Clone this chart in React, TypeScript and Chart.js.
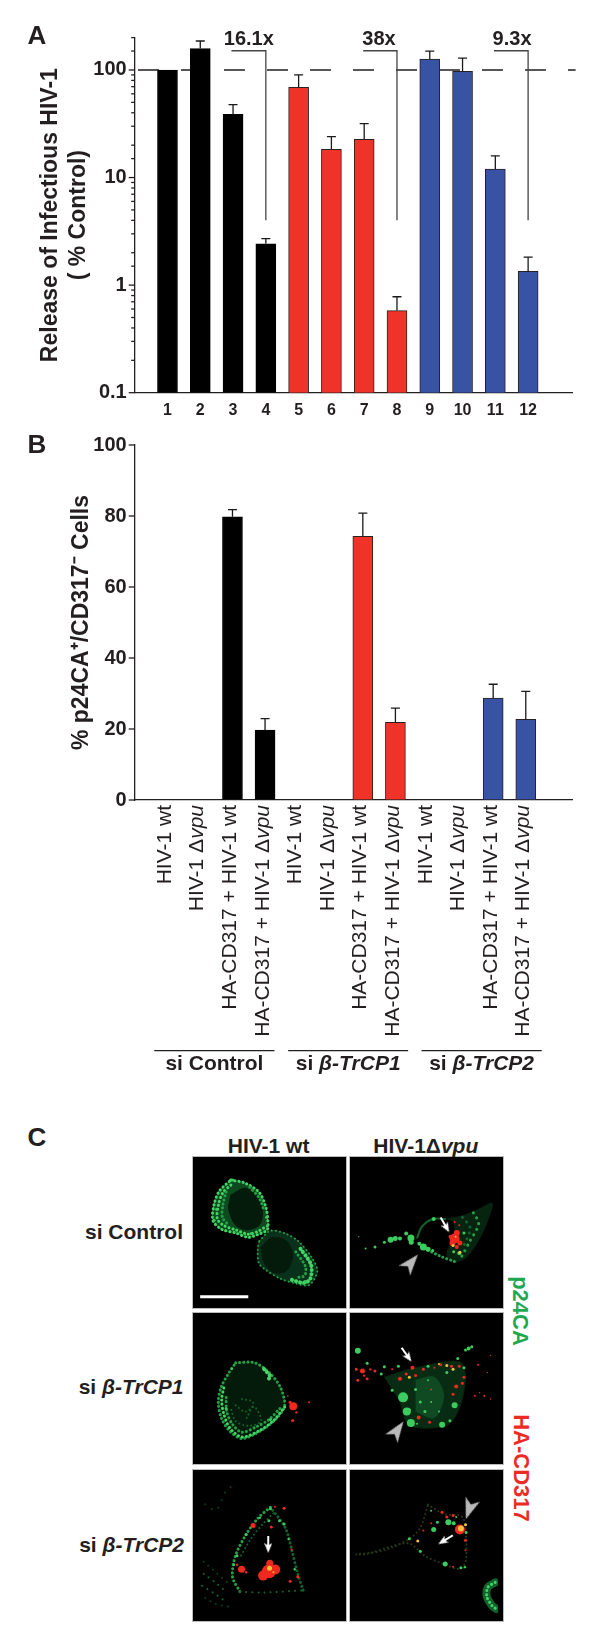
import React, { useEffect, useRef } from "react";
import { Chart, registerables } from "chart.js";

Chart.register(...registerables);
Chart.defaults.font.family = '"Liberation Sans", Arial, sans-serif';
Chart.defaults.color = "#231f20";

const INK = "#231f20";
const BLACK = "#000000";
const RED = "#EF3329";
const BLUE = "#3953A4";
const GREEN_TXT = "#1FA84F";
const RED_TXT = "#EE2A27";

// ---------- Panel A ----------
const laneNumbers = [1, 2, 3, 4, 5, 6, 7, 8, 9, 10, 11, 12];
const releaseValues = [100, 158, 38.8, 2.42, 69, 18.3, 22.7, 0.58, 126, 97, 12, 1.34];
const releaseUpper = [100, 186, 47.6, 2.7, 90, 24, 31.7, 0.78, 150, 129, 15.9, 1.82];
const laneColors = [BLACK, BLACK, BLACK, BLACK, RED, RED, RED, RED, BLUE, BLUE, BLUE, BLUE];
const logTickLabels = [0.1, 1, 10, 100];
const referenceX = [0.1, 13.45];
const referenceY = [100, 100];
const foldLabels = ["16.1x", "38x", "9.3x"];
const foldLabelX = [3.48, 7.45, 11.51];
const foldLabelY = 193;
const foldFromX = [2.95, 6.97, 10.96];
const foldToX = [4, 8, 12];
const foldTopY = 151;
const foldBottomY = 4;

// ---------- Panel B ----------
const treatmentLabels = [
  "HIV-1 wt", "HIV-1 Δvpu", "HA-CD317 + HIV-1 wt", "HA-CD317 + HIV-1 Δvpu",
  "HIV-1 wt", "HIV-1 Δvpu", "HA-CD317 + HIV-1 wt", "HA-CD317 + HIV-1 Δvpu",
  "HIV-1 wt", "HIV-1 Δvpu", "HA-CD317 + HIV-1 wt", "HA-CD317 + HIV-1 Δvpu",
];
const cellValues = [0, 0, 79.8, 19.7, 0, 0, 74.3, 21.9, 0, 0, 28.7, 22.7];
const cellUpper = [0, 0, 81.8, 22.9, 0, 0, 80.8, 25.9, 0, 0, 32.6, 30.6];
const groupPrefix = ["si ", "si ", "si "];
const groupNames = ["Control", "β-TrCP1", "β-TrCP2"];
const groupFrom = [0.6, 4.71, 8.8];
const groupTo = [4.29, 8.39, 12.49];

// ---------- Panel C (confocal images, traced by eye in image coordinates) ----------
type Dot = [number, number, number];
type Pt = [number, number];
type Rim = { pts: Pt[]; color: string; width: number; dash?: number[]; fill?: string };
type Panel = {
  x0: number; y0: number; rims: Rim[]; green: Dot[]; red: Dot[]; yellow: Dot[];
  grayArrows: [number, number, number][]; whiteArrows: [number, number, number][];
};

const DIM = "#12622c";
const MID = "#23a045";
const BRIGHT = "#45d466";
const FAINT = "#0b3d1b";
const WASH = "#06240f";
const SPECK = [0.1, 4];
const SPECK_WIDE = [0.1, 6];

const upperOuter: Pt[] = [[115, 82], [160, 92], [205, 122], [226, 170], [232, 215], [230, 240], [200, 255], [170, 264], [130, 250], [85, 238], [58, 210], [62, 160], [78, 118], [115, 82]];
const upperNucleus: Pt[] = [[115, 130], [160, 108], [200, 135], [215, 180], [205, 225], [165, 240], [130, 225], [108, 175], [115, 130]];
const lowerOuter: Pt[] = [[205, 275], [240, 243], [290, 253], [330, 278], [372, 330], [388, 372], [362, 415], [320, 410], [270, 394], [225, 367], [203, 345], [200, 300], [205, 275]];
const lowerNucleus: Pt[] = [[210, 295], [245, 265], [290, 275], [310, 320], [290, 370], [250, 375], [220, 345], [210, 295]];

const panelWtControl: Panel = {
  x0: 8, y0: 22,
  rims: [
    { pts: upperOuter, color: DIM, width: 1, fill: "#0d4a20" },
    { pts: upperNucleus, color: "#041a0b", width: 1, fill: "#041a0b" },
    { pts: lowerOuter, color: FAINT, width: 1, fill: "#08301a" },
    { pts: lowerNucleus, color: "#041a0b", width: 1, fill: "#041a0b" },
    { pts: upperOuter, color: BRIGHT, width: 3, dash: [0.1, 4] },
    { pts: [[115, 98], [90, 122], [76, 160], [72, 205], [92, 226], [130, 240], [170, 254], [200, 245], [222, 232]], color: BRIGHT, width: 3, dash: SPECK },
    { pts: [[100, 120], [90, 160], [88, 200], [105, 222]], color: MID, width: 3, dash: SPECK },
    { pts: [[175, 105], [205, 140], [220, 180]], color: MID, width: 3, dash: SPECK },
    { pts: lowerOuter, color: MID, width: 2, dash: SPECK },
    { pts: [[335, 300], [368, 350], [366, 395], [345, 408], [300, 396]], color: BRIGHT, width: 4, dash: SPECK },
    { pts: [[320, 310], [350, 355], [348, 385], [320, 392]], color: MID, width: 3, dash: SPECK },
  ],
  green: [[228, 200, 1.5], [230, 228, 1.5], [70, 175, 1.5], [62, 210, 1.5], [350, 405, 2], [120, 82, 1.5], [180, 252, 1.5]],
  red: [], yellow: [], grayArrows: [], whiteArrows: [],
};

const panelVpuControl: Panel = {
  x0: 6, y0: 22,
  rims: [
    { pts: [[300, 205], [350, 195], [400, 175], [445, 155], [425, 225], [395, 285], [360, 330], [325, 342], [300, 320], [325, 260], [325, 215]], color: WASH, width: 1, fill: WASH },
    { pts: [[205, 265], [220, 230], [255, 205], [295, 205]], color: DIM, width: 2 },
    { pts: [[240, 305], [280, 325], [325, 342]], color: MID, width: 3, dash: SPECK },
    { pts: [[385, 185], [402, 220], [372, 280], [348, 325]], color: MID, width: 3, dash: SPECK_WIDE },
    { pts: [[350, 200], [375, 235], [355, 290]], color: DIM, width: 3, dash: SPECK_WIDE },
  ],
  green: [[120, 272, 3], [135, 268, 2.5], [150, 268, 2], [170, 252, 2], [185, 266, 3.5], [186, 280, 2.5], [225, 295, 3.5], [240, 302, 2.5], [212, 285, 2], [255, 306, 1.5], [258, 205, 2], [70, 295, 1.5], [40, 300, 1], [18, 262, 0.6], [340, 315, 2], [322, 310, 1.5], [355, 250, 1.5], [100, 280, 1.5]],
  red: [[325, 268, 5], [332, 250, 3], [312, 262, 2], [318, 282, 3], [342, 282, 2.5], [332, 295, 2], [325, 215, 1], [340, 225, 1]],
  yellow: [[320, 290, 1.5], [342, 312, 1.5], [328, 262, 1]],
  grayArrows: [[186, 345, 40]],
  whiteArrows: [[294, 224, 150]],
};

const trcp1Outer: Pt[] = [[130, 195], [190, 195], [235, 225], [270, 270], [285, 330], [260, 370], [210, 410], [150, 435], [110, 410], [85, 370], [75, 320], [85, 270], [110, 225], [130, 195]];

const panelWtTrcp1: Panel = {
  x0: 8, y0: 50,
  rims: [
    { pts: trcp1Outer, color: WASH, width: 1, fill: "#041a0b" },
    { pts: trcp1Outer, color: MID, width: 3, dash: SPECK },
    { pts: [[285, 335], [250, 378], [205, 410], [150, 430], [112, 402], [92, 355], [86, 310], [95, 265]], color: BRIGHT, width: 3, dash: SPECK },
    { pts: [[270, 340], [235, 375], [195, 398], [150, 415], [120, 390], [102, 350], [100, 305]], color: MID, width: 3, dash: SPECK },
    { pts: [[130, 330], [160, 350], [190, 335], [210, 380], [170, 395], [130, 380], [115, 340]], color: DIM, width: 2, dash: SPECK },
    { pts: [[150, 310], [185, 320], [165, 370]], color: DIM, width: 2, dash: SPECK },
    { pts: [[220, 215], [240, 240], [225, 250]], color: BRIGHT, width: 4, dash: SPECK },
  ],
  green: [[118, 214, 1.2], [240, 375, 1.5], [100, 340, 1.5]],
  red: [[312, 333, 4], [302, 320, 1.5], [322, 352, 1.2], [310, 378, 1.5], [362, 320, 1], [295, 300, 0.8]],
  yellow: [], grayArrows: [], whiteArrows: [],
};

const panelVpuTrcp1: Panel = {
  x0: 6, y0: 50,
  rims: [
    { pts: [[100, 240], [190, 212], [340, 190], [360, 240], [340, 340], [300, 395], [180, 395], [150, 320]], color: WASH, width: 1, fill: "#072c13" },
    { pts: [[200, 250], [260, 240], [290, 300], [260, 370], [200, 350]], color: "#0f4a22", width: 1, fill: "#0f4a22" },
  ],
  green: [[160, 305, 5], [172, 350, 4], [185, 387, 4], [285, 393, 3], [325, 330, 3], [370, 148, 2], [380, 142, 1.5], [360, 153, 1.5], [15, 155, 3], [125, 282, 1.5], [145, 205, 1.5], [90, 230, 1.5], [240, 205, 1.5], [300, 225, 1.5], [335, 180, 1.5], [355, 210, 1.5], [310, 380, 1.5], [230, 350, 1.5], [215, 320, 1.5], [100, 207, 1.5], [200, 280, 1.5], [250, 320, 1], [45, 195, 1.5], [180, 345, 1.5], [240, 250, 1], [275, 350, 1], [205, 390, 1]],
  red: [[10, 215, 1.5], [30, 220, 2.5], [45, 245, 1.5], [15, 250, 1.5], [70, 220, 1.5], [150, 245, 2], [190, 210, 2], [200, 235, 1.5], [280, 200, 1.5], [340, 205, 1.5], [355, 240, 1.5], [330, 270, 2], [350, 260, 1.5], [320, 295, 1.5], [210, 370, 2], [390, 300, 1], [420, 300, 1], [400, 200, 1], [440, 170, 0.7], [250, 280, 1], [170, 230, 1.5], [225, 215, 1.5], [315, 205, 1.5], [440, 310, 0.7], [245, 385, 1.5], [55, 215, 1.2], [35, 235, 1.2], [125, 215, 1], [260, 210, 1], [405, 290, 0.8], [430, 225, 0.7]],
  yellow: [[300, 203, 1.5], [320, 215, 1.5], [180, 240, 1.5], [275, 198, 1]],
  grayArrows: [[142, 410, 35]],
  whiteArrows: [[171, 168, 145]],
};

const panelWtTrcp2: Panel = {
  x0: 8, y0: 80,
  rims: [
    { pts: [[240, 180], [290, 250], [310, 320], [330, 400], [348, 455]], color: DIM, width: 3, dash: SPECK },
    { pts: [[240, 180], [200, 215], [160, 270], [125, 340], [115, 410], [140, 460]], color: MID, width: 3, dash: SPECK },
    { pts: [[250, 200], [215, 235], [175, 285], [140, 345]], color: DIM, width: 2, dash: SPECK },
    { pts: [[20, 360], [60, 395], [100, 430]], color: FAINT, width: 2, dash: SPECK_WIDE },
    { pts: [[20, 400], [60, 430], [95, 460]], color: DIM, width: 2, dash: SPECK_WIDE },
    { pts: [[15, 440], [55, 465], [90, 490]], color: DIM, width: 2, dash: SPECK_WIDE },
    { pts: [[25, 480], [60, 500], [110, 510]], color: FAINT, width: 2, dash: SPECK_WIDE },
    { pts: [[25, 170], [60, 190], [95, 125], [130, 100]], color: FAINT, width: 2, dash: [0.1, 8] },
    { pts: [[140, 460], [220, 462], [345, 455]], color: DIM, width: 2, dash: SPECK_WIDE },
  ],
  green: [[240, 185, 1.5], [270, 225, 1.5], [235, 225, 1.5], [285, 235, 1.5], [160, 270, 1.5], [130, 340, 1.5], [120, 370, 1.2], [300, 285, 1.2], [205, 215, 1.2], [320, 385, 1.2]],
  red: [[235, 392, 7], [216, 406, 5], [256, 386, 5], [238, 365, 3.5], [145, 385, 3.5], [183, 240, 2.5], [243, 245, 1.5], [285, 183, 1.5], [255, 178, 1], [310, 320, 1], [330, 410, 1.5], [305, 425, 1.5], [130, 370, 1.2], [160, 395, 1.2]],
  yellow: [[237, 382, 2.5], [250, 395, 1]],
  grayArrows: [],
  whiteArrows: [[233, 303, 180]],
};

const panelVpuTrcp2: Panel = {
  x0: 6, y0: 80,
  rims: [
    { pts: [[240, 175], [290, 205], [350, 215], [362, 290], [360, 360], [340, 382], [290, 366], [230, 340], [180, 300], [120, 310], [40, 335], [10, 335]], color: "#2c3a14", width: 2, dash: SPECK },
    { pts: [[10, 335], [100, 322], [180, 285], [215, 250], [240, 175]], color: "#26361a", width: 2, dash: SPECK },
    { pts: [[455, 425], [432, 440], [428, 470], [445, 500], [458, 510]], color: DIM, width: 8 },
    { pts: [[455, 425], [432, 440], [428, 470], [445, 500], [458, 510]], color: BRIGHT, width: 3, dash: SPECK },
  ],
  green: [[305, 232, 3], [322, 235, 2], [258, 255, 2.5], [295, 366, 2.5], [345, 378, 1.5], [358, 376, 1.2], [215, 325, 1.5], [180, 285, 1.5], [362, 265, 1.5], [270, 232, 1.5], [250, 195, 1], [330, 215, 1]],
  red: [[342, 255, 5], [285, 200, 1.5], [300, 215, 1.5], [320, 210, 1.5], [360, 290, 1.5], [360, 322, 1], [225, 258, 1], [250, 235, 1], [320, 375, 1]],
  yellow: [[345, 252, 3], [207, 292, 1.5], [360, 240, 1.5]],
  grayArrows: [[372, 190, 199]],
  whiteArrows: [[296, 288, 239]],
};

const scaleBarX = [18, 170];
const scaleBarY = [452, 452];

// ---------- Helpers ----------
const FONT = '"Liberation Sans", Arial, sans-serif';

const tickMarksPlugin = {
  id: "tickMarks",
  afterDraw(chart: any) {
    const s = chart.scales.y;
    const c = chart.ctx;
    c.save();
    c.strokeStyle = INK;
    c.lineWidth = 1.3;
    s.ticks.forEach((t: any) => {
      const y = s.getPixelForValue(t.value);
      const isLabeled = t.label !== "" && t.label !== undefined;
      const len = isLabeled ? 6 : 3.5;
      c.beginPath();
      c.moveTo(s.right - len, y);
      c.lineTo(s.right, y);
      c.stroke();
    });
    c.restore();
  },
};

function errorBars(upper: number[], values: number[]) {
  return {
    id: "errorBars",
    afterDatasetsDraw(chart: any) {
      const { x, y } = chart.scales;
      const c = chart.ctx;
      c.save();
      c.strokeStyle = "#1a1a1a";
      c.lineWidth = 1.3;
      upper.forEach((u, i) => {
        if (u <= values[i]) return;
        const px = x.getPixelForValue(i + 1);
        const top = y.getPixelForValue(u);
        c.beginPath();
        c.moveTo(px, y.getPixelForValue(values[i]));
        c.lineTo(px, top);
        c.moveTo(px - 4.5, top);
        c.lineTo(px + 4.5, top);
        c.stroke();
      });
      c.restore();
    },
  };
}

const foldLabelPlugin = {
  id: "foldLabels",
  afterDraw(chart: any) {
    const { x, y } = chart.scales;
    const c = chart.ctx;
    c.save();
    c.font = `bold 20px ${FONT}`;
    c.fillStyle = INK;
    c.textAlign = "center";
    c.textBaseline = "middle";
    foldLabels.forEach((t, i) => c.fillText(t, x.getPixelForValue(foldLabelX[i]), y.getPixelForValue(foldLabelY)));
    c.restore();
  },
};

const treatmentAxisPlugin = {
  id: "treatmentAxis",
  afterDraw(chart: any) {
    const { x } = chart.scales;
    const base = chart.scales.y.bottom;
    const c = chart.ctx;
    const regular = `21px ${FONT}`;
    const italic = `italic 21px ${FONT}`;
    c.save();
    c.fillStyle = INK;
    treatmentLabels.forEach((label, i) => {
      const italicPart = label.endsWith("vpu") ? "vpu" : "";
      const head = italicPart ? label.slice(0, -3) : label;
      c.font = regular;
      const hw = c.measureText(head).width;
      c.font = italic;
      const iw = italicPart ? c.measureText(italicPart).width : 0;
      c.save();
      c.translate(x.getPixelForValue(i + 1) - 2.3, base + 5);
      c.rotate(-Math.PI / 2);
      c.textBaseline = "middle";
      c.textAlign = "left";
      c.font = regular;
      c.fillText(head, -(hw + iw), 0);
      if (italicPart) {
        c.font = italic;
        c.fillText(italicPart, -iw, 0);
      }
      c.restore();
    });
    groupNames.forEach((name, i) => {
      const a = x.getPixelForValue(groupFrom[i]);
      const b = x.getPixelForValue(groupTo[i]);
      c.strokeStyle = INK;
      c.lineWidth = 1.3;
      c.beginPath();
      c.moveTo(a, base + 250.7);
      c.lineTo(b, base + 250.7);
      c.stroke();
      const isItalic = name.startsWith("β");
      const boldF = `bold 21px ${FONT}`;
      const nameF = isItalic ? `italic bold 21px ${FONT}` : boldF;
      c.font = boldF;
      const pw = c.measureText(groupPrefix[i]).width;
      c.font = nameF;
      const nw = c.measureText(name).width;
      const start = (a + b) / 2 - (pw + nw) / 2;
      c.textBaseline = "middle";
      c.textAlign = "left";
      c.font = boldF;
      c.fillText(groupPrefix[i], start, base + 264);
      c.font = nameF;
      c.fillText(name, start + pw, base + 264);
    });
    c.restore();
  },
};

function fixedSize(value: number, key: "width" | "height") {
  return (s: any) => {
    s[key] = value;
  };
}

const axisBorder = { display: true, color: INK, width: 1.3 };
const noGrid = { display: true, drawOnChartArea: false, drawTicks: false };

function configA(): any {
  return {
    type: "bar",
    data: {
      datasets: [
        {
          type: "bar",
          order: 2,
          data: laneNumbers.map((n, i) => ({ x: n, y: releaseValues[i] })),
          backgroundColor: laneColors,
          borderColor: laneColors.map((c) => (c === BLACK ? BLACK : "#2a2020")),
          borderWidth: 1,
          barThickness: 20,
        },
        {
          type: "line",
          order: 3,
          data: referenceX.map((x, i) => ({ x, y: referenceY[i] })),
          borderColor: INK,
          borderWidth: 1.5,
          borderDash: [21, 22],
          pointRadius: 0,
          clip: false,
        },
        ...foldToX.map((to, i) => ({
          type: "line",
          order: 1,
          data: [
            { x: foldFromX[i], y: foldTopY },
            { x: to, y: foldTopY },
            { x: to, y: foldBottomY },
          ],
          borderColor: "#444",
          borderWidth: 1.3,
          pointRadius: 0,
          clip: false,
        })),
      ],
    },
    plugins: [tickMarksPlugin, errorBars(releaseUpper, releaseValues), foldLabelPlugin],
    options: {
      responsive: false,
      animation: false,
      layout: { padding: { left: 0, top: 37.6, right: 27.3, bottom: 0 } },
      plugins: { legend: { display: false }, tooltip: { enabled: false } },
      scales: {
        x: {
          type: "linear",
          min: 0,
          max: 13.36,
          offset: false,
          afterFit: fixedSize(27.3, "height"),
          grid: { ...noGrid, offset: false },
          border: axisBorder,
          ticks: {
            stepSize: 1,
            autoSkip: false,
            includeBounds: false,
            maxRotation: 0,
            padding: 8,
            font: { size: 16, weight: "bold" },
            callback: (v: number) => (laneNumbers.includes(v) ? String(v) : ""),
          },
        },
        y: {
          type: "logarithmic",
          min: 0.1,
          max: 200,
          afterFit: fixedSize(134.7, "width"),
          grid: noGrid,
          border: axisBorder,
          ticks: {
            autoSkip: false,
            padding: 8,
            font: { size: 20, weight: "bold" },
            callback: (v: number) => (logTickLabels.includes(Number(v)) ? String(v) : ""),
          },
          title: {
            display: true,
            text: ["Release of Infectious HIV-1", "( % Control)"],
            font: { size: 23, weight: "bold", lineHeight: 1.22 },
            color: INK,
            padding: { top: 37, bottom: 0 },
          },
        },
      },
    },
  };
}

function configB(): any {
  return {
    type: "bar",
    data: {
      datasets: [
        {
          data: laneNumbers.map((n, i) => ({ x: n, y: cellValues[i] })),
          backgroundColor: laneColors,
          borderColor: laneColors.map((c) => (c === BLACK ? BLACK : "#2a2020")),
          borderWidth: 1,
          barThickness: 20,
        },
      ],
    },
    plugins: [tickMarksPlugin, errorBars(cellUpper, cellValues), treatmentAxisPlugin],
    options: {
      responsive: false,
      animation: false,
      layout: { padding: { left: 0, top: 45, right: 27.3, bottom: 0 } },
      plugins: { legend: { display: false }, tooltip: { enabled: false } },
      scales: {
        x: {
          type: "linear",
          min: 0,
          max: 13.44,
          offset: false,
          afterFit: fixedSize(280, "height"),
          grid: { ...noGrid, offset: false },
          border: axisBorder,
          ticks: { display: false, stepSize: 1, includeBounds: false },
        },
        y: {
          type: "linear",
          min: 0,
          max: 100,
          afterFit: fixedSize(134.7, "width"),
          grid: noGrid,
          border: axisBorder,
          ticks: {
            stepSize: 20,
            padding: 8,
            font: { size: 20, weight: "bold" },
          },
          title: {
            display: true,
            text: "% p24CA⁺/CD317⁻ Cells",
            font: { size: 23, weight: "bold", lineHeight: 1.2 },
            color: INK,
            padding: { top: 68, bottom: 0 },
          },
        },
      },
    },
  };
}

function arrowSprite(kind: "gray" | "white") {
  const cv = document.createElement("canvas");
  const c = cv.getContext("2d") as CanvasRenderingContext2D;
  if (kind === "gray") {
    cv.width = 15;
    cv.height = 21;
    c.fillStyle = "#b9b9b9";
    c.beginPath();
    c.moveTo(7.5, 0);
    c.lineTo(15, 21);
    c.lineTo(7.5, 15.5);
    c.lineTo(0, 21);
    c.closePath();
    c.fill();
  } else {
    cv.width = 8;
    cv.height = 17;
    c.fillStyle = "#ffffff";
    c.beginPath();
    c.moveTo(4, 0);
    c.lineTo(8, 10);
    c.lineTo(5, 8);
    c.lineTo(5, 17);
    c.lineTo(3, 17);
    c.lineTo(3, 8);
    c.lineTo(0, 10);
    c.closePath();
    c.fill();
  }
  return cv;
}

function configPanel(p: Panel, withBar: boolean): any {
  const toXY = (pts: Pt[]) => pts.map(([x, y]) => ({ x, y }));
  const toBubble = (d: Dot[]) => d.map(([x, y, r]) => ({ x, y, r }));
  const datasets: any[] = [];
  p.rims.forEach((r, idx) =>
    datasets.push({
      type: "line",
      data: toXY(r.pts),
      borderColor: r.color,
      borderWidth: r.width,
      borderDash: r.dash || [],
      borderCapStyle: "round",
      backgroundColor: r.fill,
      fill: r.fill ? "shape" : false,
      pointRadius: 0,
      tension: 0.3,
      order: 100 - idx,
    })
  );
  const bubble = (d: Dot[], color: string, order: number) => ({
    type: "bubble",
    data: toBubble(d),
    backgroundColor: color,
    borderWidth: 0,
    order,
  });
  datasets.push(bubble(p.green, "#3ccb5e", 4));
  datasets.push(bubble(p.red, "#f0281e", 3));
  datasets.push(bubble(p.yellow, "#f5c23a", 2));
  if (p.grayArrows.length)
    datasets.push({
      type: "scatter",
      data: p.grayArrows.map(([x, y]) => ({ x, y })),
      pointStyle: arrowSprite("gray"),
      pointRotation: p.grayArrows.map((a) => a[2]),
      pointRadius: 3,
      order: 1,
    });
  if (p.whiteArrows.length)
    datasets.push({
      type: "scatter",
      data: p.whiteArrows.map(([x, y]) => ({ x, y })),
      pointStyle: arrowSprite("white"),
      pointRotation: p.whiteArrows.map((a) => a[2]),
      pointRadius: 3,
      order: 1,
    });
  if (withBar)
    datasets.push({
      type: "line",
      data: scaleBarX.map((x, i) => ({ x, y: scaleBarY[i] })),
      borderColor: "#ffffff",
      borderWidth: 3,
      pointRadius: 0,
      order: 1,
    });
  return {
    type: "scatter",
    data: { datasets },
    options: {
      responsive: false,
      animation: false,
      layout: { padding: 0 },
      plugins: { legend: { display: false }, tooltip: { enabled: false } },
      scales: {
        x: { type: "linear", display: false, min: p.x0, max: p.x0 + 458 },
        y: { type: "linear", display: false, reverse: true, min: p.y0, max: p.y0 + 453 },
      },
    },
  };
}

function ChartBox({
  make, left, top, width, height, filter,
}: {
  make: () => any; left: number; top: number; width: number; height: number; filter?: string;
}) {
  const ref = useRef<HTMLCanvasElement | null>(null);
  useEffect(() => {
    const chart = new Chart(ref.current as HTMLCanvasElement, make());
    return () => chart.destroy();
  }, []);
  return (
    <canvas
      ref={ref}
      width={width}
      height={height}
      style={{ position: "absolute", left, top, width, height, display: "block", filter }}
    />
  );
}

function Txt({
  x, y, anchor = "center", size = 21, color = INK, rotate = 0, children,
}: {
  x: number; y: number; anchor?: "center" | "right" | "left"; size?: number; color?: string; rotate?: number;
  children: React.ReactNode;
}) {
  const tx = anchor === "center" ? "-50%" : anchor === "right" ? "-100%" : "0";
  return (
    <div
      style={{
        position: "absolute", left: x, top: y, whiteSpace: "nowrap", fontFamily: FONT, fontWeight: 700,
        fontSize: size, lineHeight: 1, color,
        transform: `translate(${tx}, -50%) rotate(${rotate}deg)`,
      }}
    >
      {children}
    </div>
  );
}

const panelLayout = [
  { panel: panelWtControl, left: 192.5, top: 1157.3 },
  { panel: panelVpuControl, left: 350, top: 1157.3 },
  { panel: panelWtTrcp1, left: 192.5, top: 1313 },
  { panel: panelVpuTrcp1, left: 350, top: 1313 },
  { panel: panelWtTrcp2, left: 192.5, top: 1469.5 },
  { panel: panelVpuTrcp2, left: 350, top: 1469.5 },
];

export default function App() {
  return (
    <div style={{ position: "absolute", left: 0, top: 0, width: 600, height: 1636, background: "#fff", overflow: "hidden" }}>
      <ChartBox make={configA} left={0} top={0} width={600} height={420} />
      <ChartBox make={configB} left={0} top={400} width={600} height={680} />
      {panelLayout.map((p, i) => (
        <div
          key={i}
          style={{ position: "absolute", left: p.left, top: p.top, width: 153, height: 151, background: "#000", outline: "1px solid #bbb", overflow: "hidden" }}
        >
          <ChartBox make={() => configPanel(p.panel, i === 0)} left={0} top={0} width={153} height={151} filter="blur(0.6px)" />
        </div>
      ))}
      <Txt x={37} y={35} size={26}>A</Txt>
      <Txt x={37} y={444} size={26}>B</Txt>
      <Txt x={37} y={1137} size={26}>C</Txt>
      <Txt x={268.6} y={1145}>HIV-1 wt</Txt>
      <Txt x={425.8} y={1145}>HIV-1Δ<i>vpu</i></Txt>
      <Txt x={183} y={1230.7} anchor="right">si Control</Txt>
      <Txt x={183.5} y={1386} anchor="right">si <i>β-TrCP1</i></Txt>
      <Txt x={184} y={1543.5} anchor="right">si <i>β-TrCP2</i></Txt>
      <Txt x={520} y={1311} size={22} color={GREEN_TXT} rotate={90}>p24CA</Txt>
      <Txt x={521} y={1468} size={22} color={RED_TXT} rotate={90}>HA-CD317</Txt>
    </div>
  );
}
